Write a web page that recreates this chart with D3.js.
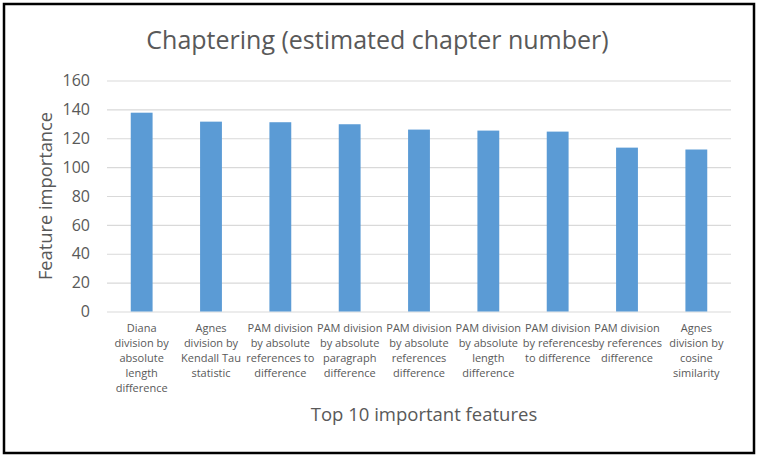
<!DOCTYPE html>
<html>
<head>
<meta charset="utf-8">
<script src="https://cdn.jsdelivr.net/npm/d3@7"></script>
<style>
  body { margin: 0; background: #fff; }
  text { font-family: "Open Sans", "Noto Sans", sans-serif; fill: #595959; }
</style>
</head>
<body>
<div id="chart-area"></div>
<script>
// Data
var categories = [
    ["Diana", "division by", "absolute", "length", "difference"],
    ["Agnes", "division by", "Kendall Tau", "statistic"],
    ["PAM division", "by absolute", "references to", "difference"],
    ["PAM division", "by absolute", "paragraph", "difference"],
    ["PAM division", "by absolute", "references", "difference"],
    ["PAM division", "by absolute", "length", "difference"],
    ["PAM division", "by references", "to difference"],
    ["PAM division", "by references", "difference"],
    ["Agnes", "division by", "cosine", "similarity"]
];
var importance = [137.7, 131.5, 131.1, 129.7, 126.0, 125.3, 124.6, 113.5, 112.2];
var yTicks = [0, 20, 40, 60, 80, 100, 120, 140, 160];

var titleText = "Chaptering (estimated chapter number)";
var xTitle = "Top 10 important features";
var yTitle = "Feature importance";

// Chart config
var W = 767, H = 467;
var margin = {top: 80.5, right: 36, bottom: 155.5, left: 107};
var width = W - margin.left - margin.right,
    height = H - margin.top - margin.bottom;

var svg = d3.select("#chart-area").append("svg")
    .attr("width", W)
    .attr("height", H);

// outer border
svg.append("rect")
    .attr("x", 4).attr("y", 4)
    .attr("width", 750).attr("height", 449)
    .attr("fill", "#fff")
    .attr("stroke", "#000")
    .attr("stroke-width", 2.5);

var g = svg.append("g")
    .attr("transform", "translate(" + margin.left + "," + margin.top + ")");

var xScale = d3.scaleBand()
    .domain(d3.range(categories.length))
    .range([0, width])
    .paddingInner(0.685)
    .paddingOuter(0.3425);

var yScale = d3.scaleLinear().domain([0, 160]).range([height, 0]);

// gridlines
var ygrid = d3.axisLeft(yScale).tickValues(yTicks).tickSize(-width).tickFormat("");
g.append("g")
    .attr("class", "ygrid")
    .call(ygrid)
    .call(function(s) {
        s.select(".domain").remove();
        s.selectAll("line").attr("stroke", "#d9d9d9").attr("stroke-width", 1.2);
    });

// bars
g.selectAll(".bar")
    .data(importance)
    .enter().append("rect")
    .attr("class", "bar")
    .attr("x", function(d, i) { return xScale(i); })
    .attr("width", xScale.bandwidth())
    .attr("y", function(d) { return yScale(d); })
    .attr("height", function(d) { return height - yScale(d); })
    .attr("fill", "#5b9bd5");

// y axis labels
var yAxis = d3.axisLeft(yScale).tickValues(yTicks).tickSize(0).tickPadding(17);
g.append("g")
    .call(yAxis)
    .call(function(s) {
        s.select(".domain").remove();
        s.selectAll("text")
            .style("font-size", "16px")
            .attr("fill", "#595959")
            .attr("font-family", null);
    });

// x axis labels (multi line)
var xLabels = g.append("g")
    .attr("transform", "translate(0," + height + ")");
xLabels.selectAll("text")
    .data(categories)
    .enter().append("text")
    .attr("text-anchor", "middle")
    .style("font-size", "11px")
    .attr("transform", function(d, i) {
        return "translate(" + (xScale(i) + xScale.bandwidth() / 2) + ",20.5)";
    })
    .each(function(lines) {
        d3.select(this).selectAll("tspan")
            .data(lines)
            .enter().append("tspan")
            .attr("x", 0)
            .attr("y", function(d, j) { return j * 15; })
            .text(function(d) { return d; });
    });

// titles
svg.append("text")
    .attr("x", 377.5).attr("y", 49)
    .attr("text-anchor", "middle")
    .style("font-size", "25px")
    .text(titleText);

svg.append("text")
    .attr("x", 424).attr("y", 420.5)
    .attr("text-anchor", "middle")
    .style("font-size", "18.5px")
    .text(xTitle);

svg.append("text")
    .attr("transform", "translate(51.5," + (margin.top + height / 2) + ") rotate(-90)")
    .attr("text-anchor", "middle")
    .style("font-size", "18.3px")
    .text(yTitle);
</script>
</body>
</html>
